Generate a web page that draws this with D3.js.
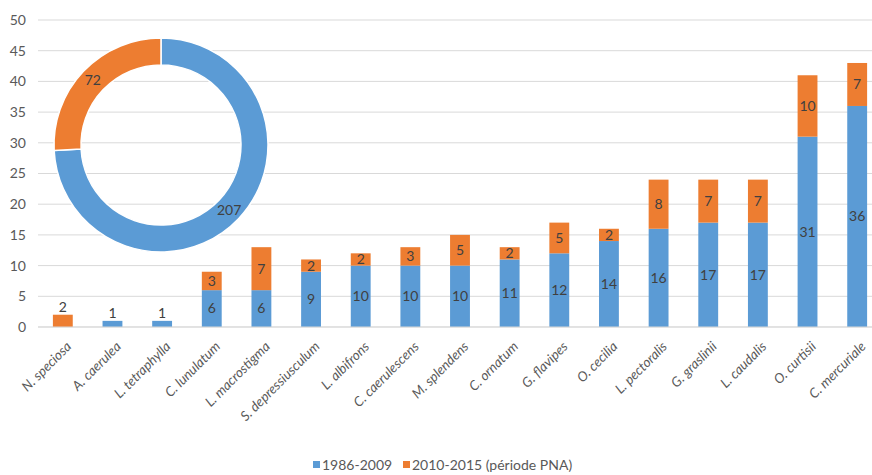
<!DOCTYPE html>
<html>
<head>
<meta charset="utf-8">
<script src="https://cdn.jsdelivr.net/npm/d3@7"></script>
<style>
body{margin:0;background:#fff;}
text{font-family:Lato,"Open Sans",sans-serif;}
</style>
</head>
<body>
<div class="canvas"></div>
<script>
//species counts per period
var species = ['N. speciosa','A. caerulea','L. tetraphylla','C. lunulatum','L. macrostigma','S. depressiusculum',
	'L. albifrons','C. caerulescens','M. splendens','C. ornatum','G. flavipes','O. cecilia',
	'L. pectoralis','G. graslinii','L. caudalis','O. curtisii','C. mercuriale'];
var before = [0,1,1,6,6,9,10,10,10,11,12,14,16,17,17,31,36];
var after = [2,0,0,3,7,2,2,3,5,2,5,2,8,7,7,10,7];
var seriesNames = ['1986-2009','2010-2015 (période PNA)'];
var colors = ['#5b9bd5','#ed7d31'];
var yTicks = [0,5,10,15,20,25,30,35,40,45,50];
var donutValues = [207,72];

var W = 872, H = 475;
var margin = {t:20,r:-10,b:148,l:38};
var width = W-margin.l-margin.r,
	height = H-margin.t-margin.b;

var svg = d3.select('.canvas')
	.append('svg')
	.attr('width',W)
	.attr('height',H);

var plot = svg.append('g')
	.attr('transform','translate('+margin.l+','+margin.t+')');

var x = d3.scaleBand().domain(species).range([0,width]).paddingInner(0.6).paddingOuter(0.3);
var y = d3.scaleLinear().domain([0,50]).range([height,0]);

//gridlines
plot.selectAll('.grid')
	.data(yTicks)
	.enter()
	.append('line')
	.attr('x1',0)
	.attr('x2',W)
	.attr('y1',function(d){return y(d)})
	.attr('y2',function(d){return y(d)})
	.style('stroke','#d9d9d9')
	.style('stroke-width','1px');

plot.selectAll('.ylab')
	.data(yTicks)
	.enter()
	.append('text')
	.attr('x',-12)
	.attr('y',function(d){return y(d)})
	.attr('dy','0.35em')
	.attr('text-anchor','end')
	.style('font-size','14px')
	.style('fill','#595959')
	.text(function(d){return d});

//donut behind the bars
var donut = plot.append('g')
	.attr('transform','translate('+(161-margin.l)+','+(145-margin.t)+')');
var pie = d3.pie().sort(null)(donutValues);
var arc = d3.arc().innerRadius(80).outerRadius(107);
donut.selectAll('path')
	.data(pie)
	.enter()
	.append('path')
	.attr('d',arc)
	.style('fill',function(d,i){return colors[i]})
	.style('stroke','#fff')
	.style('stroke-width','1.5px');
var labelArc = d3.arc().innerRadius(94).outerRadius(94);
donut.selectAll('.dl')
	.data(pie)
	.enter()
	.append('text')
	.attr('transform',function(d){return 'translate('+labelArc.centroid(d)+')'})
	.attr('dy','0.35em')
	.attr('text-anchor','middle')
	.style('font-size','14px')
	.style('fill','#404040')
	.text(function(d){return d.data});

//stacked bars
species.forEach(function(s,i){
	var vals = [before[i],after[i]];
	var base = 0;
	vals.forEach(function(v,k){
		if(v==0) return;
		plot.append('rect')
			.attr('x',x(s))
			.attr('width',x.bandwidth())
			.attr('y',y(base+v))
			.attr('height',y(base)-y(base+v))
			.style('fill',colors[k]);
		var total = before[i]+after[i];
		var ly = total<=2 ? y(total)-8 : (y(base)+y(base+v))/2;
		plot.append('text')
			.attr('x',x(s)+x.bandwidth()/2)
			.attr('y',ly)
			.attr('dy','0.35em')
			.attr('text-anchor','middle')
			.style('font-size','14px')
			.style('fill','#404040')
			.text(v);
		base += v;
	});
});

//axis line
plot.append('line')
	.attr('x1',0)
	.attr('x2',W)
	.attr('y1',y(0))
	.attr('y2',y(0))
	.style('stroke','#d9d9d9');

//category labels
plot.selectAll('.xlab')
	.data(species)
	.enter()
	.append('text')
	.attr('transform',function(d){
		return 'translate('+(x(d)+x.bandwidth()/2+6)+','+(height+17)+') rotate(-45)';
	})
	.attr('text-anchor','end')
	.attr('dy','0.35em')
	.style('font-size','13.5px')
	.style('font-style','italic')
	.style('fill','#595959')
	.text(function(d){return d});

//legend
var legend = svg.append('g').attr('transform','translate(313,465)');
var lx = [0,90];
seriesNames.forEach(function(n,i){
	legend.append('rect')
		.attr('x',lx[i])
		.attr('y',-4)
		.attr('width',7)
		.attr('height',7)
		.style('fill',colors[i]);
	legend.append('text')
		.attr('x',lx[i]+9)
		.attr('y',0)
		.attr('dy','0.35em')
		.style('font-size','14px')
		.style('fill','#595959')
		.text(n);
});
</script>
</body>
</html>
